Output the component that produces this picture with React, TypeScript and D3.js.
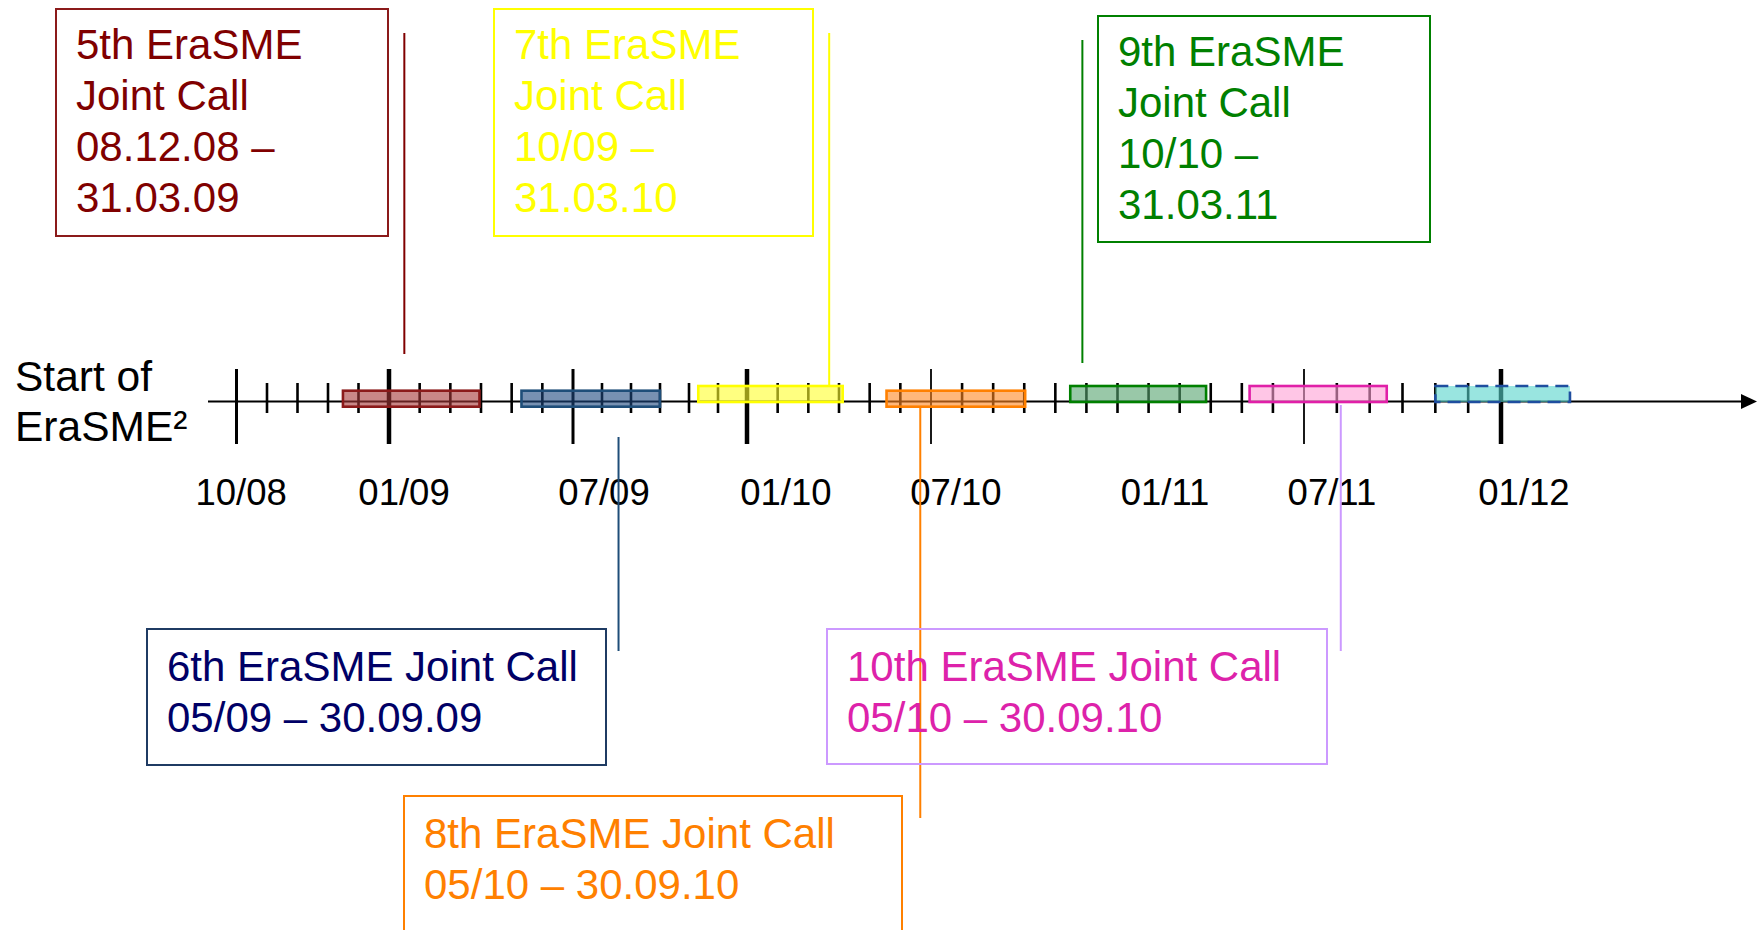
import * as d3 from "d3";

// month ticks along the timeline, index 0 = 10/08
const TICK_COUNT = 42;
const MAJOR_TICKS = [0, 5, 11, 17, 23, 35, 41];
const MAJOR_WEIGHT = [3, 4.5, 3, 4.5, 1.8, 1.8, 4.5];
const AXIS_LABELS = ["10/08", "01/09", "07/09", "01/10", "07/10", "01/11", "07/11", "01/12"];
const LABEL_AT = [0.15, 5.49, 12.07, 18.27, 23.8, 30.53, 35.85, 41.7];

// joint calls
const CALL_NAMES = ["5th", "6th", "7th", "8th", "9th", "10th"];
const CALL_START = ["08.12.08", "05/09", "10/09", "05/10", "10/10", "05/10"];
const CALL_END = ["31.03.09", "30.09.09", "31.03.10", "30.09.10", "31.03.11", "30.09.10"];
const CONNECTOR_AT = [5.5, 12.57, 19.68, 22.65, 27.87, 36.12];

// bars on the axis (last one = next call, dashed)
const BAR_START = [3.49, 9.32, 15.32, 21.55, 27.48, 33.25, 39.0];
const BAR_END = [7.95, 14.0, 20.12, 26.03, 31.85, 37.52, 43.1];

// the axis is hand drawn, so the major ticks are not evenly spaced
const AXIS_PX = [236.5, 389, 573, 747, 931, 1304, 1501];
const AXIS_Y = 401.5;

const BAR_STYLE = [
  { fill: "#a53737", stroke: "#8b1a1a", raised: false },
  { fill: "#1e487f", stroke: "#1f4e79", raised: false },
  { fill: "#ffff2b", stroke: "#ffff00", raised: true },
  { fill: "#ff8721", stroke: "#ff8000", raised: false },
  { fill: "#55a36e", stroke: "#008000", raised: true },
  { fill: "#ffa0d5", stroke: "#e020a8", raised: true },
  { fill: "#55d4cb", stroke: "#1f4e9f", raised: true, dashed: true },
];

// callout boxes, same order as CALL_NAMES
const BOXES = [
  { x: 56, y: 9, w: 332, h: 227, text: "#800000", border: "#8b1a1a", wide: false, line: [33, 354] },
  { x: 147, y: 629, w: 459, h: 136, text: "#000066", border: "#1f3b63", wide: true, line: [437, 651] },
  { x: 494, y: 9, w: 319, h: 227, text: "#ffff00", border: "#ffff00", wide: false, line: [33, 386] },
  { x: 404, y: 796, w: 498, h: 150, text: "#ff8000", border: "#ff8000", wide: true, line: [406, 818] },
  { x: 1098, y: 16, w: 332, h: 226, text: "#008000", border: "#008000", wide: false, line: [40, 363] },
  { x: 827, y: 629, w: 500, h: 135, text: "#dd22aa", border: "#cc99ff", wide: true, line: [405, 651] },
];
const LINE_COLORS = ["#800000", "#1f4e79", "#ffff00", "#ff8000", "#008000", "#cc99ff"];

const FONT = "'Liberation Sans', Arial, sans-serif";

export default function App() {
  const x = d3.scaleLinear().domain(MAJOR_TICKS).range(AXIS_PX);
  const ticks = d3.range(TICK_COUNT);

  return (
    <svg
      width={1760}
      height={930}
      style={{ position: "absolute", left: 0, top: 0, background: "#fff" }}
      fontFamily={FONT}
    >
      {/* axis */}
      <line x1={208} x2={1742} y1={AXIS_Y} y2={AXIS_Y} stroke="#000" strokeWidth={2} />
      <polygon
        points={`1757,${AXIS_Y} 1741,${AXIS_Y - 7.5} 1741,${AXIS_Y + 7.5}`}
        fill="#000"
      />
      {ticks.map((t) => {
        const mi = MAJOR_TICKS.indexOf(t);
        const major = mi >= 0;
        return (
          <line
            key={t}
            x1={x(t)}
            x2={x(t)}
            y1={major ? 369 : 383}
            y2={major ? 444 : 413}
            stroke="#000"
            strokeWidth={major ? MAJOR_WEIGHT[mi] : 2.6}
          />
        );
      })}

      {/* bars */}
      {BAR_START.map((s, i) => {
        const st = BAR_STYLE[i];
        const y0 = st.raised ? 386 : 390.7;
        return (
          <g key={i}>
            <rect
              x={x(s)}
              y={y0}
              width={x(BAR_END[i]) - x(s)}
              height={16}
              fill={st.fill}
              fillOpacity={0.6}
              stroke="none"
            />
            <rect
              x={x(s)}
              y={y0}
              width={x(BAR_END[i]) - x(s)}
              height={16}
              fill="none"
              stroke={st.stroke}
              strokeWidth={2.6}
              strokeDasharray={st.dashed ? "13 7" : undefined}
            />
          </g>
        );
      })}

      {/* tick labels */}
      {AXIS_LABELS.map((l, i) => (
        <text key={l} x={x(LABEL_AT[i])} y={505} fontSize={36.5} textAnchor="middle" fill="#000">
          {l}
        </text>
      ))}

      <text x={15} y={391} fontSize={42.5} fill="#000">Start of</text>
      <text x={15} y={441} fontSize={42.5} fill="#000">EraSME²</text>

      {/* connectors */}
      {CONNECTOR_AT.map((c, i) => (
        <line
          key={i}
          x1={x(c)}
          x2={x(c)}
          y1={BOXES[i].line[0]}
          y2={BOXES[i].line[1]}
          stroke={LINE_COLORS[i]}
          strokeWidth={2}
        />
      ))}

      {/* call boxes */}
      {CALL_NAMES.map((n, i) => {
        const b = BOXES[i];
        const lines = b.wide
          ? [`${n} EraSME Joint Call`, `${CALL_START[i]} – ${CALL_END[i]}`]
          : [`${n} EraSME`, "Joint Call", `${CALL_START[i]} –`, CALL_END[i]];
        const step = b.wide ? 50.5 : 51;
        return (
          <g key={n}>
            <rect x={b.x} y={b.y} width={b.w} height={b.h} fill="none" stroke={b.border} strokeWidth={2} />
            {lines.map((ln, j) => (
              <text key={j} x={b.x + 20} y={b.y + (b.wide ? 52 : 50) + j * step} fontSize={42} fill={b.text}>
                {ln}
              </text>
            ))}
          </g>
        );
      })}
    </svg>
  );
}
